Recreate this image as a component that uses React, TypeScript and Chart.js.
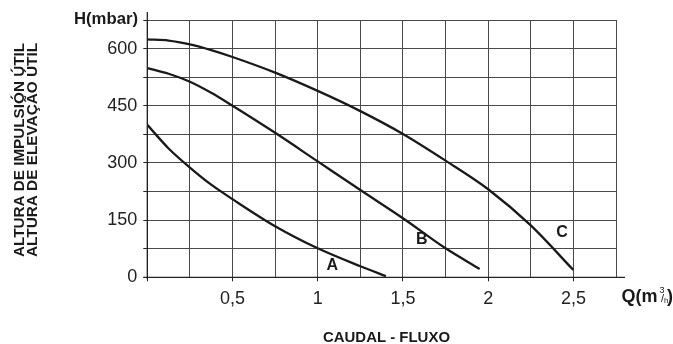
import { useEffect, useRef } from "react";
import { Chart, registerables } from "chart.js";

Chart.register(...registerables);

// Flow (m³/h) and head (mbar)
const qA = [0, 0.125, 0.25, 0.375, 0.5, 0.75, 1, 1.25, 1.4];
const hA = [400, 338, 288, 243, 205, 134, 76, 29, 3];
const qB = [0, 0.125, 0.25, 0.375, 0.5, 0.75, 1, 1.25, 1.5, 1.75, 1.95];
const hB = [549, 534, 513, 484, 450, 379, 304, 229, 155, 76, 22];
const qC = [0, 0.125, 0.25, 0.375, 0.5, 0.75, 1, 1.25, 1.5, 1.75, 2, 2.25, 2.5];
const hC = [624, 621, 611, 596, 578, 537, 489, 436, 376, 306, 231, 136, 19];

const curveNames = ["A", "B", "C"];
// label anchor points in data units (flow, head)
const nameQ = [1.086, 1.61, 2.434];
const nameH = [30, 99, 116];

const yTitleLines = ["ALTURA DE IMPULSIÓN ÚTIL", "ALTURA DE ELEVAÇÃO ÚTIL"];
const xTitle = "CAUDAL - FLUXO";
const yUnit = "H(mbar)";

const INK = "#1a1a1a";
const GRID = "#4a4a4a";
const FONT = "'Liberation Sans', Arial, sans-serif";

function fillFit(ctx: CanvasRenderingContext2D, text: string, x: number, y: number, w: number, align: "left" | "right" | "center") {
  const m = ctx.measureText(text).width;
  const s = w / m;
  ctx.save();
  let x0 = x;
  if (align === "right") x0 = x - w;
  else if (align === "center") x0 = x - w / 2;
  ctx.translate(x0, y);
  ctx.scale(s, 1);
  ctx.textAlign = "left";
  ctx.fillText(text, 0, 0);
  ctx.restore();
}

const decorPlugin = {
  id: "decor",
  afterDraw(chart: any) {
    const ctx: CanvasRenderingContext2D = chart.ctx;
    const xs = chart.scales.x;
    const ys = chart.scales.y;
    const ca = chart.chartArea;
    const x0 = xs.getPixelForValue(0);
    const y0 = ys.getPixelForValue(0);
    ctx.save();
    // axes
    ctx.strokeStyle = "#222";
    ctx.lineWidth = 1.3;
    ctx.beginPath();
    ctx.moveTo(x0, ca.top - 8);
    ctx.lineTo(x0, y0 + 2);
    ctx.moveTo(x0 - 4, y0);
    ctx.lineTo(ca.right + 9, y0);
    ctx.stroke();

    ctx.fillStyle = INK;
    // curve names
    ctx.font = `bold 16px ${FONT}`;
    ctx.textAlign = "center";
    ctx.textBaseline = "middle";
    curveNames.forEach((n, i) => {
      ctx.fillText(n, xs.getPixelForValue(nameQ[i]), ys.getPixelForValue(nameH[i]));
    });
    ctx.textBaseline = "alphabetic";

    // H(mbar)
    ctx.font = `bold 16px ${FONT}`;
    fillFit(ctx, yUnit, 138, 23.5, 64, "right");

    // Q(m3/h)
    ctx.font = `bold 18px ${FONT}`;
    ctx.textAlign = "left";
    ctx.fillText("Q(m", 621.5, 302);
    ctx.font = `9px ${FONT}`;
    ctx.fillText("3", 659.5, 293);
    ctx.font = `11px ${FONT}`;
    ctx.fillText("/", 661, 302);
    ctx.font = `8px ${FONT}`;
    ctx.fillText("h", 664, 303);
    ctx.font = `bold 18px ${FONT}`;
    ctx.fillText(")", 667, 302);

    // x title
    ctx.font = `bold 15px ${FONT}`;
    fillFit(ctx, xTitle, 323, 341.5, 127, "left");

    // rotated y title
    ctx.font = `bold 15px ${FONT}`;
    const baseX = [24, 37];
    yTitleLines.forEach((t, i) => {
      ctx.save();
      ctx.translate(baseX[i], 150);
      ctx.rotate(-Math.PI / 2);
      fillFit(ctx, t, 0, 0, 214, "center");
      ctx.restore();
    });
    ctx.restore();
  },
};

function isHalf(v: number) {
  return Math.abs(v * 2 - Math.round(v * 2)) < 1e-6;
}

export default function App() {
  const ref = useRef<HTMLCanvasElement>(null);
  useEffect(() => {
    document.body.style.margin = "0";
    const ds = (q: number[], h: number[]) => ({
      data: q.map((x, i) => ({ x, y: h[i] })),
      borderColor: INK,
      borderWidth: 2.3,
      pointRadius: 0,
      cubicInterpolationMode: "monotone",
      fill: false,
    });
    const chart = new Chart(ref.current!, {
      type: "line",
      data: { datasets: [ds(qA, hA), ds(qB, hB), ds(qC, hC)] },
      options: {
        responsive: false,
        animation: false,
        layout: { padding: { top: 20, right: 57, left: 0, bottom: 0 } },
        plugins: { legend: { display: false }, tooltip: { enabled: false } },
        scales: {
          x: {
            type: "linear",
            min: 0,
            max: 2.75,
            afterFit: (s: any) => { s.height = 66.7; },
            border: { display: false },
            grid: {
              color: GRID,
              lineWidth: 1,
              tickLength: 4,
              tickColor: (c: any) => (c.tick && isHalf(c.tick.value) ? "#222" : "rgba(0,0,0,0)"),
            },
            ticks: {
              stepSize: 0.25,
              autoSkip: false,
              maxRotation: 0,
              padding: 7,
              color: "#222",
              font: { family: "Liberation Sans", size: 18 },
              callback: (v: any) => {
                const n = Number(v);
                if (n === 0 || !isHalf(n)) return "";
                return String(n).replace(".", ",");
              },
            },
          },
          y: {
            type: "linear",
            min: 0,
            max: 675,
            afterFit: (s: any) => { s.width = 147.3; },
            border: { display: false },
            grid: { color: GRID, lineWidth: 1, tickLength: 4, tickColor: "#222" },
            ticks: {
              stepSize: 75,
              autoSkip: false,
              padding: 6,
              color: "#222",
              font: { family: "Liberation Sans", size: 18 },
              callback: (v: any) => (Number(v) % 150 === 0 ? String(v) : ""),
            },
          },
        },
      },
      plugins: [decorPlugin],
    } as any);
    return () => chart.destroy();
  }, []);
  return <canvas ref={ref} width={673} height={344} style={{ display: "block", width: 673, height: 344 }} />;
}
